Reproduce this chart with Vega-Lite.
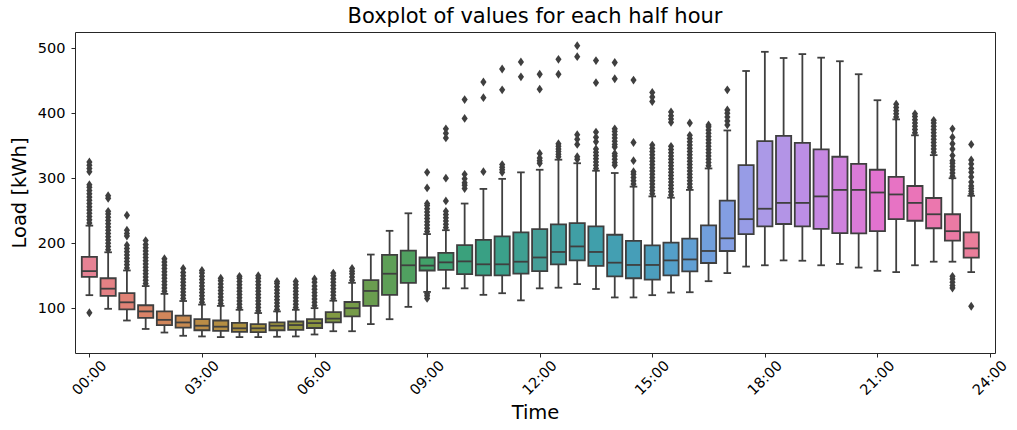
{
  "$schema": "https://vega.github.io/schema/vega-lite/v6.json",
  "width": 920,
  "height": 321,
  "autosize": {"type": "none"},
  "padding": {"left": 75, "top": 32, "right": 22, "bottom": 77},
  "background": "white",
  "title": {"text": "Boxplot of values for each half hour", "font": "DejaVu Sans", "fontSize": 21, "fontWeight": "normal", "color": "#000000", "offset": 5},
  "config": {
    "view": {"stroke": "#262626", "strokeWidth": 1},
    "axis": {"grid": false, "domain": false, "tickColor": "#262626", "tickSize": 4, "tickWidth": 1, "labelFont": "DejaVu Sans", "labelFontSize": 14.5, "labelColor": "#000000", "titleFont": "DejaVu Sans", "titleFontSize": 19.5, "titleFontWeight": "normal", "titleColor": "#000000"}
  },
  "datasets": {
    "boxes": [
      {"t":0,"lo":120,"q1":148,"med":157,"q3":179,"hi":227},
      {"t":1,"lo":99,"q1":119,"med":130,"q3":146,"hi":186},
      {"t":2,"lo":81,"q1":98,"med":109,"q3":123,"hi":158},
      {"t":3,"lo":68,"q1":85,"med":95,"q3":104.5,"hi":134},
      {"t":4,"lo":62.5,"q1":74,"med":82,"q3":95,"hi":122},
      {"t":5,"lo":57.5,"q1":70,"med":78,"q3":88.5,"hi":111},
      {"t":6,"lo":56.5,"q1":66,"med":73,"q3":83,"hi":105.5},
      {"t":7,"lo":55.5,"q1":65,"med":71.5,"q3":81,"hi":103.5},
      {"t":8,"lo":55.5,"q1":63.5,"med":69,"q3":77.5,"hi":97.5},
      {"t":9,"lo":55.5,"q1":63,"med":69,"q3":75.5,"hi":92.5},
      {"t":10,"lo":56,"q1":66,"med":73,"q3":78,"hi":95},
      {"t":11,"lo":56.5,"q1":66.5,"med":74,"q3":79.5,"hi":97.5},
      {"t":12,"lo":59.5,"q1":69.5,"med":77,"q3":83,"hi":100},
      {"t":13,"lo":64.5,"q1":78,"med":84,"q3":94,"hi":111.5},
      {"t":14,"lo":64.5,"q1":87.5,"med":100,"q3":109.5,"hi":139},
      {"t":15,"lo":75.5,"q1":103.5,"med":126.5,"q3":143,"hi":182.5},
      {"t":16,"lo":83,"q1":120.5,"med":153,"q3":182,"hi":219},
      {"t":17,"lo":102,"q1":139,"med":166,"q3":188.5,"hi":246},
      {"t":18,"lo":125,"q1":158,"med":165.5,"q3":178,"hi":214},
      {"t":19,"lo":130.5,"q1":159,"med":170.5,"q3":185,"hi":220},
      {"t":20,"lo":130.5,"q1":152.5,"med":172,"q3":197,"hi":261},
      {"t":21,"lo":120.5,"q1":150.5,"med":167.5,"q3":205,"hi":283.5},
      {"t":22,"lo":123,"q1":150.5,"med":167.5,"q3":210.5,"hi":299},
      {"t":23,"lo":112,"q1":153,"med":171.5,"q3":216.5,"hi":309},
      {"t":24,"lo":130.5,"q1":157,"med":178,"q3":221.5,"hi":313},
      {"t":25,"lo":131.5,"q1":167.5,"med":186.5,"q3":229,"hi":328.5},
      {"t":26,"lo":137,"q1":173.5,"med":195,"q3":231,"hi":323},
      {"t":27,"lo":129.5,"q1":165,"med":186.5,"q3":226,"hi":311.5},
      {"t":28,"lo":116.5,"q1":149,"med":170,"q3":213,"hi":308},
      {"t":29,"lo":116.5,"q1":146,"med":166.5,"q3":203.5,"hi":287},
      {"t":30,"lo":120,"q1":144,"med":166.5,"q3":196.5,"hi":272},
      {"t":31,"lo":124,"q1":150.5,"med":173.5,"q3":201,"hi":270},
      {"t":32,"lo":124.5,"q1":156.5,"med":175,"q3":207,"hi":282},
      {"t":33,"lo":141.5,"q1":169.5,"med":188,"q3":227.5,"hi":315},
      {"t":34,"lo":154,"q1":188,"med":207.5,"q3":265.5,"hi":373.5},
      {"t":35,"lo":164,"q1":214,"med":237,"q3":320,"hi":465},
      {"t":36,"lo":166,"q1":226,"med":253,"q3":357,"hi":494.5},
      {"t":37,"lo":173.5,"q1":229.5,"med":262,"q3":365,"hi":485},
      {"t":38,"lo":173,"q1":226,"med":262,"q3":354.5,"hi":491},
      {"t":39,"lo":166,"q1":222,"med":272,"q3":344.5,"hi":485.5},
      {"t":40,"lo":168,"q1":215.5,"med":282,"q3":333,"hi":480},
      {"t":41,"lo":162.5,"q1":215,"med":282,"q3":322,"hi":460},
      {"t":42,"lo":157.5,"q1":218.5,"med":278,"q3":313,"hi":420},
      {"t":43,"lo":155.5,"q1":237,"med":275,"q3":302,"hi":390.5},
      {"t":44,"lo":166,"q1":234.5,"med":262,"q3":288,"hi":366},
      {"t":45,"lo":171.5,"q1":223,"med":244.5,"q3":269.5,"hi":335.5},
      {"t":46,"lo":171.5,"q1":204,"med":218.5,"q3":244.5,"hi":300},
      {"t":47,"lo":155.5,"q1":177.8,"med":192,"q3":216.5,"hi":273}
    ],
    "out": [
      {"t":0,"v":93},{"t":0,"v":231},{"t":0,"v":236},{"t":0,"v":241},{"t":0,"v":246},{"t":0,"v":251},{"t":0,"v":256},{"t":0,"v":261},{"t":0,"v":266},{"t":0,"v":271},{"t":0,"v":276},{"t":0,"v":281},{"t":0,"v":286},{"t":0,"v":290},{"t":0,"v":310},{"t":0,"v":315},{"t":0,"v":320},{"t":0,"v":325},
      {"t":1,"v":190},{"t":1,"v":195},{"t":1,"v":200},{"t":1,"v":205},{"t":1,"v":210},{"t":1,"v":215},{"t":1,"v":220},{"t":1,"v":225},{"t":1,"v":230},{"t":1,"v":235},{"t":1,"v":240},{"t":1,"v":245},{"t":1,"v":249},{"t":1,"v":269},{"t":1,"v":273},
      {"t":2,"v":162},{"t":2,"v":167},{"t":2,"v":172},{"t":2,"v":177},{"t":2,"v":182},{"t":2,"v":187},{"t":2,"v":192},{"t":2,"v":197},{"t":2,"v":211},{"t":2,"v":215},{"t":2,"v":220},{"t":2,"v":243},
      {"t":3,"v":138},{"t":3,"v":143},{"t":3,"v":148},{"t":3,"v":153},{"t":3,"v":158},{"t":3,"v":163},{"t":3,"v":168},{"t":3,"v":173},{"t":3,"v":178},{"t":3,"v":183},{"t":3,"v":188},{"t":3,"v":193},{"t":3,"v":198},{"t":3,"v":204},
      {"t":4,"v":126},{"t":4,"v":131},{"t":4,"v":136},{"t":4,"v":141},{"t":4,"v":146},{"t":4,"v":151},{"t":4,"v":156},{"t":4,"v":161},{"t":4,"v":166},{"t":4,"v":171},{"t":4,"v":176},
      {"t":5,"v":115},{"t":5,"v":120},{"t":5,"v":125},{"t":5,"v":130},{"t":5,"v":135},{"t":5,"v":140},{"t":5,"v":145},{"t":5,"v":150},{"t":5,"v":155},{"t":5,"v":161},
      {"t":6,"v":109},{"t":6,"v":114},{"t":6,"v":119},{"t":6,"v":124},{"t":6,"v":129},{"t":6,"v":134},{"t":6,"v":139},{"t":6,"v":144},{"t":6,"v":149},{"t":6,"v":154},{"t":6,"v":158},
      {"t":7,"v":107},{"t":7,"v":112},{"t":7,"v":117},{"t":7,"v":122},{"t":7,"v":127},{"t":7,"v":132},{"t":7,"v":137},{"t":7,"v":142},{"t":7,"v":146},
      {"t":8,"v":101},{"t":8,"v":106},{"t":8,"v":111},{"t":8,"v":116},{"t":8,"v":121},{"t":8,"v":126},{"t":8,"v":131},{"t":8,"v":136},{"t":8,"v":141},{"t":8,"v":146},{"t":8,"v":149},
      {"t":9,"v":96},{"t":9,"v":101},{"t":9,"v":106},{"t":9,"v":111},{"t":9,"v":116},{"t":9,"v":121},{"t":9,"v":126},{"t":9,"v":131},{"t":9,"v":136},{"t":9,"v":141},{"t":9,"v":146},{"t":9,"v":150},
      {"t":10,"v":98},{"t":10,"v":103},{"t":10,"v":108},{"t":10,"v":113},{"t":10,"v":118},{"t":10,"v":123},{"t":10,"v":128},{"t":10,"v":133},{"t":10,"v":138},{"t":10,"v":141},
      {"t":11,"v":101},{"t":11,"v":106},{"t":11,"v":111},{"t":11,"v":116},{"t":11,"v":121},{"t":11,"v":126},{"t":11,"v":131},{"t":11,"v":136},{"t":11,"v":141},
      {"t":12,"v":104},{"t":12,"v":109},{"t":12,"v":114},{"t":12,"v":119},{"t":12,"v":124},{"t":12,"v":129},{"t":12,"v":134},{"t":12,"v":140},{"t":12,"v":145},
      {"t":13,"v":115},{"t":13,"v":120},{"t":13,"v":125},{"t":13,"v":130},{"t":13,"v":135},{"t":13,"v":140},{"t":13,"v":145},{"t":13,"v":150},{"t":13,"v":154},
      {"t":14,"v":143},{"t":14,"v":148},{"t":14,"v":153},{"t":14,"v":157},{"t":14,"v":161},
      {"t":18,"v":115},{"t":18,"v":119},{"t":18,"v":122},{"t":18,"v":218},{"t":18,"v":223},{"t":18,"v":228},{"t":18,"v":233},{"t":18,"v":238},{"t":18,"v":243},{"t":18,"v":248},{"t":18,"v":253},{"t":18,"v":258},{"t":18,"v":261},{"t":18,"v":285},{"t":18,"v":309},
      {"t":19,"v":224},{"t":19,"v":229},{"t":19,"v":234},{"t":19,"v":239},{"t":19,"v":244},{"t":19,"v":249},{"t":19,"v":265},{"t":19,"v":300},{"t":19,"v":362},{"t":19,"v":369},{"t":19,"v":376},
      {"t":20,"v":284},{"t":20,"v":289},{"t":20,"v":293},{"t":20,"v":299},{"t":20,"v":306},{"t":20,"v":392},{"t":20,"v":421},
      {"t":21,"v":310},{"t":21,"v":424},{"t":21,"v":448},
      {"t":22,"v":309},{"t":22,"v":313},{"t":22,"v":317},{"t":22,"v":321},{"t":22,"v":436},{"t":22,"v":468},
      {"t":23,"v":456},{"t":23,"v":479},
      {"t":24,"v":323},{"t":24,"v":327},{"t":24,"v":331},{"t":24,"v":338},{"t":24,"v":437},{"t":24,"v":460},
      {"t":25,"v":333},{"t":25,"v":337},{"t":25,"v":341},{"t":25,"v":345},{"t":25,"v":349},{"t":25,"v":353},{"t":25,"v":460},{"t":25,"v":483},
      {"t":26,"v":329},{"t":26,"v":333},{"t":26,"v":352},{"t":26,"v":360},{"t":26,"v":367},{"t":26,"v":487},{"t":26,"v":504},
      {"t":27,"v":315},{"t":27,"v":320},{"t":27,"v":325},{"t":27,"v":330},{"t":27,"v":335},{"t":27,"v":340},{"t":27,"v":345},{"t":27,"v":356},{"t":27,"v":363},{"t":27,"v":371},{"t":27,"v":447},{"t":27,"v":481},
      {"t":28,"v":320},{"t":28,"v":324},{"t":28,"v":329},{"t":28,"v":334},{"t":28,"v":338},{"t":28,"v":348},{"t":28,"v":352},{"t":28,"v":357},{"t":28,"v":362},{"t":28,"v":367},{"t":28,"v":372},{"t":28,"v":376},{"t":28,"v":453},{"t":28,"v":478},
      {"t":29,"v":291},{"t":29,"v":296},{"t":29,"v":301},{"t":29,"v":306},{"t":29,"v":310},{"t":29,"v":327},{"t":29,"v":355},{"t":29,"v":451},
      {"t":30,"v":276},{"t":30,"v":281},{"t":30,"v":286},{"t":30,"v":291},{"t":30,"v":296},{"t":30,"v":301},{"t":30,"v":306},{"t":30,"v":311},{"t":30,"v":316},{"t":30,"v":321},{"t":30,"v":326},{"t":30,"v":331},{"t":30,"v":336},{"t":30,"v":341},{"t":30,"v":346},{"t":30,"v":351},{"t":30,"v":418},{"t":30,"v":425},{"t":30,"v":432},
      {"t":31,"v":274},{"t":31,"v":279},{"t":31,"v":284},{"t":31,"v":289},{"t":31,"v":294},{"t":31,"v":299},{"t":31,"v":304},{"t":31,"v":309},{"t":31,"v":314},{"t":31,"v":319},{"t":31,"v":324},{"t":31,"v":329},{"t":31,"v":334},{"t":31,"v":339},{"t":31,"v":344},{"t":31,"v":349},{"t":31,"v":386},{"t":31,"v":391},{"t":31,"v":396},{"t":31,"v":402},
      {"t":32,"v":286},{"t":32,"v":291},{"t":32,"v":296},{"t":32,"v":301},{"t":32,"v":306},{"t":32,"v":311},{"t":32,"v":316},{"t":32,"v":321},{"t":32,"v":326},{"t":32,"v":331},{"t":32,"v":336},{"t":32,"v":341},{"t":32,"v":346},{"t":32,"v":351},{"t":32,"v":356},{"t":32,"v":361},{"t":32,"v":366},{"t":32,"v":385},
      {"t":33,"v":319},{"t":33,"v":324},{"t":33,"v":329},{"t":33,"v":334},{"t":33,"v":339},{"t":33,"v":344},{"t":33,"v":349},{"t":33,"v":354},{"t":33,"v":359},{"t":33,"v":364},{"t":33,"v":369},{"t":33,"v":374},{"t":33,"v":379},{"t":33,"v":382},
      {"t":34,"v":382},{"t":34,"v":388},{"t":34,"v":394},{"t":34,"v":400},{"t":34,"v":405},{"t":34,"v":436},
      {"t":43,"v":394},{"t":43,"v":399},{"t":43,"v":404},{"t":43,"v":409},{"t":43,"v":414},
      {"t":44,"v":370},{"t":44,"v":375},{"t":44,"v":380},{"t":44,"v":385},{"t":44,"v":390},{"t":44,"v":395},{"t":44,"v":399},
      {"t":45,"v":340},{"t":45,"v":345},{"t":45,"v":350},{"t":45,"v":355},{"t":45,"v":360},{"t":45,"v":365},{"t":45,"v":370},{"t":45,"v":375},{"t":45,"v":380},{"t":45,"v":385},{"t":45,"v":389},
      {"t":46,"v":131},{"t":46,"v":135},{"t":46,"v":140},{"t":46,"v":145},{"t":46,"v":149},{"t":46,"v":303},{"t":46,"v":308},{"t":46,"v":313},{"t":46,"v":318},{"t":46,"v":323},{"t":46,"v":327},{"t":46,"v":335},{"t":46,"v":345},{"t":46,"v":353},{"t":46,"v":363},{"t":46,"v":376},
      {"t":47,"v":103},{"t":47,"v":276},{"t":47,"v":280},{"t":47,"v":284},{"t":47,"v":288},{"t":47,"v":294},{"t":47,"v":302},{"t":47,"v":309},{"t":47,"v":315},{"t":47,"v":322},{"t":47,"v":328},{"t":47,"v":352}
    ]
  },
  "data": {"name": "boxes"},
  "encoding": {
    "x": {
      "field": "t", "type": "quantitative",
      "scale": {"domain": [-0.5, 48], "nice": false, "zero": false},
      "axis": {"values": [0, 6, 12, 18, 24, 30, 36, 42, 48], "labelExpr": "(datum.value / 2 < 10 ? '0' : '') + (datum.value / 2) + ':00'", "labelAngle": -45, "labelAlign": "center", "labelBaseline": "middle", "labelPadding": 21, "title": "Time", "titlePadding": 6}
    }
  },
  "layer": [
    {
      "mark": {"type": "rule", "stroke": "#3f3f3f", "strokeWidth": 1.8},
      "encoding": {
        "y": {"field": "lo", "type": "quantitative", "scale": {"domain": [31, 525], "nice": false, "zero": false}, "title": "Load [kWh]", "axis": {"values": [100, 200, 300, 400, 500], "labelPadding": 6, "titlePadding": 8}},
        "y2": {"field": "hi"}
      }
    },
    {
      "mark": {"type": "tick", "orient": "horizontal", "color": "#3f3f3f", "size": 7.6, "thickness": 1.8, "opacity": 1},
      "encoding": {"y": {"field": "lo", "type": "quantitative", "title": "Load [kWh]"}}
    },
    {
      "mark": {"type": "tick", "orient": "horizontal", "color": "#3f3f3f", "size": 7.6, "thickness": 1.8, "opacity": 1},
      "encoding": {"y": {"field": "hi", "type": "quantitative", "title": "Load [kWh]"}}
    },
    {
      "mark": {"type": "bar", "width": 15.2, "stroke": "#3f3f3f", "strokeWidth": 1.8, "opacity": 1},
      "encoding": {
        "y": {"field": "q1", "type": "quantitative", "title": "Load [kWh]"},
        "y2": {"field": "q3"},
        "fill": {"field": "t", "type": "quantitative", "legend": null, "scale": {"type": "linear", "domain": [0, 6, 12, 18, 24, 30, 36, 42, 48], "range": ["#e68294", "#bb8c46", "#8c963f", "#42a169", "#459e97", "#4c9ebd", "#ab99e7", "#e273d0", "#e68294"], "interpolate": "hcl"}}
      }
    },
    {
      "mark": {"type": "tick", "orient": "horizontal", "color": "#3f3f3f", "size": 15.2, "thickness": 1.8, "opacity": 1},
      "encoding": {"y": {"field": "med", "type": "quantitative", "title": "Load [kWh]"}}
    },
    {
      "data": {"name": "out"},
      "mark": {"type": "point", "shape": "M0,-1L0.7,0L0,1L-0.7,0Z", "filled": true, "color": "#3f3f3f", "size": 78, "opacity": 1},
      "encoding": {"y": {"field": "v", "type": "quantitative", "title": "Load [kWh]"}}
    }
  ]
}
